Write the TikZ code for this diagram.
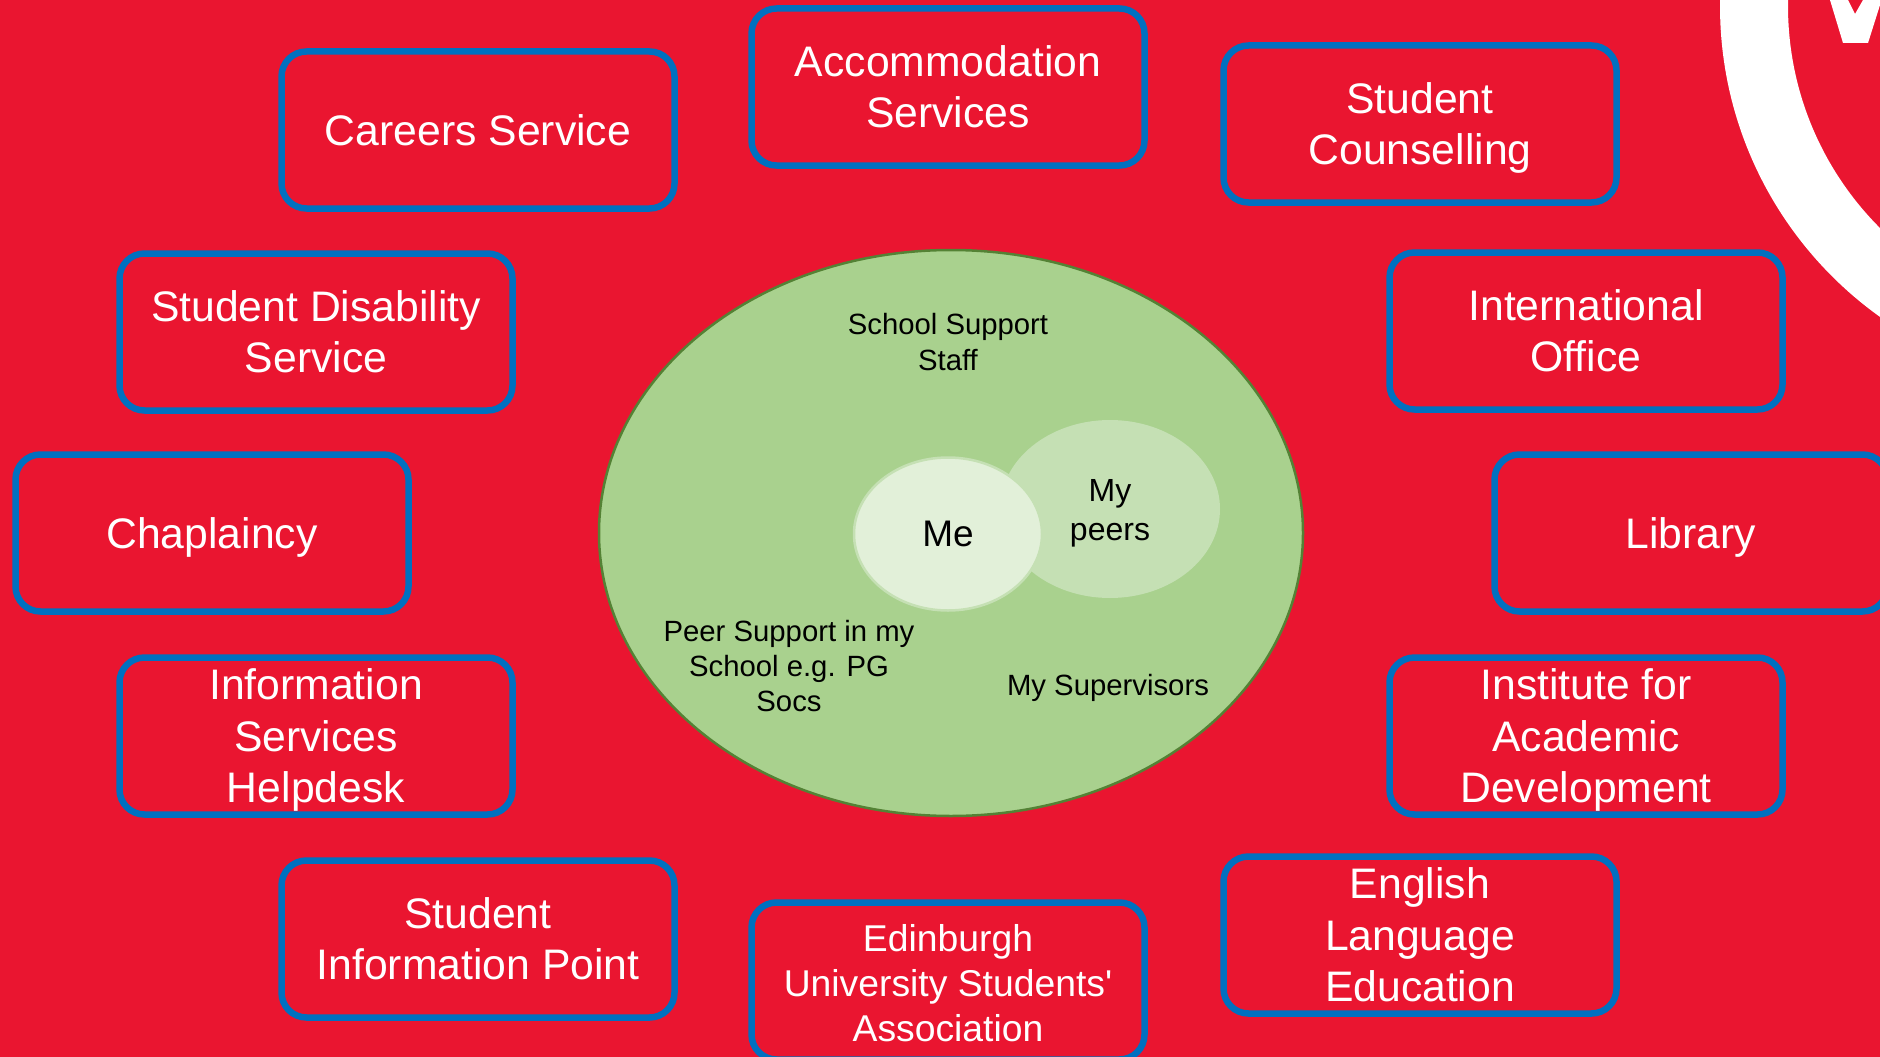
\documentclass[tikz,border=0pt]{standalone}
\usepackage{fontspec}
\setmainfont{Liberation Sans}
\usetikzlibrary{shapes.geometric}

\definecolor{slidered}{HTML}{EA1530}
\definecolor{boxblue}{HTML}{0070C0}
\definecolor{outergreen}{HTML}{A9D18E}
\definecolor{outeredge}{HTML}{548235}
\definecolor{peergreen}{HTML}{C5E0B4}
\definecolor{megreen}{HTML}{E2F0D9}

\newcommand{\boxstrut}{\rule[-11pt]{0pt}{52pt}}

\tikzset{
  servicebox/.style={draw=boxblue,line width=6.5pt,rounded corners=25pt,fill=slidered,
    text=white,align=center,inner sep=0pt,minimum width=393pt,minimum height=157pt,
    font=\fontsize{42.7}{51.5}\selectfont,
    execute at end node=\boxstrut},
  blob/.style={ellipse,inner sep=0pt,align=center,text=black},
  insidelabel/.style={align=center,inner sep=0pt,text=black,font=\fontsize{29.3}{35.2}\selectfont}
}

\begin{document}
\begin{tikzpicture}[x=1pt,y=-1pt]
  \useasboundingbox (0,0) rectangle (1880,1057);
  \clip (0,0) rectangle (1880,1057);
  \fill[slidered] (0,0) rectangle (1880,1057);

  % logo in the corner
  \draw[white,line width=68pt] (2102,6) circle (348);
  \fill[white] (1830,0) -- (1843,43) -- (1868,43) -- (1880,5) -- (1880,0) -- (1863,0)
    -- (1855,14) -- (1848,0) -- cycle;

  % services round the outside
  \node[servicebox] (careers) at (478,130) {\boxstrut Careers Service};
  \node[servicebox] (accommodation) at (948,87) {\boxstrut Accommodation\\Services};
  \node[servicebox] (counselling) at (1420,124) {\boxstrut Student\\Counselling};
  \node[servicebox] (disability) at (316,332) {\boxstrut Student Disability\\Service};
  \node[servicebox] (international) at (1586,331) {\boxstrut International\\Office};
  \node[servicebox] (chaplaincy) at (212,533) {\boxstrut Chaplaincy};
  \node[servicebox] (library) at (1691,533) {\boxstrut Library};
  \node[servicebox] (helpdesk) at (316,736) {\boxstrut Information\\Services\\Helpdesk};
  \node[servicebox] (iad) at (1586,736) {\boxstrut Institute for\\Academic\\Development};
  \node[servicebox] (infopoint) at (478,939) {\boxstrut Student\\Information Point};
  \node[servicebox,font=\fontsize{37.3}{45}\selectfont] (eusa) at (948,981) {\boxstrut Edinburgh\\University Students\textquotesingle\\Association};
  \node[servicebox] (english) at (1420,935) {\boxstrut English\\Language\\Education};

  % circles in the middle
  \node[blob,draw=outeredge,line width=2.5pt,fill=outergreen,minimum width=704pt,minimum height=566pt] (school) at (951,533) {};
  \node[blob,fill=peergreen,minimum width=220pt,minimum height=178pt,font=\fontsize{32}{39.5}\selectfont] (peers) at (1110,509) {\rule{0pt}{31pt}My\\peers};
  \node[blob,draw=peergreen,line width=2.5pt,fill=megreen,minimum width=188pt,minimum height=153pt,font=\fontsize{37}{42}\selectfont] (me) at (948,534) {Me};

  \node[insidelabel] (staff) at (948,342) {School Support\\Staff};
  \node[insidelabel] (pgsocs) at (789,666) {Peer Support in my\\School e.g. PG\\Socs};
  \node[insidelabel] (supervisors) at (1108,688) {My Supervisors};
\end{tikzpicture}
\end{document}
